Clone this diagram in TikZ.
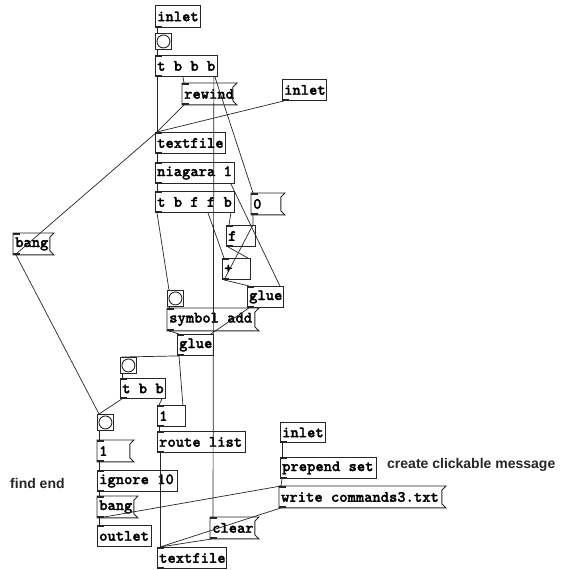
\documentclass[tikz,border=0pt]{standalone}
\usepackage{fontspec}
\newfontfamily\cmtfont{Liberation Sans}
\newfontfamily\pdfont{lmmonolt10-bold.otf}[FakeBold=1.6]
\tikzset{
 pdbox/.style={draw=black!85, line width=0.9pt, inner sep=0pt, anchor=north west},
 pdtxt/.style={font=\pdfont\fontsize{15.8}{16}\selectfont, inner sep=0pt, anchor=west},
 wire/.style={draw=black!85, line width=0.7pt},
 nub/.style={fill=black!85, draw=none},
 cmt/.style={font=\cmtfont\bfseries\fontsize{14}{16}\selectfont, inner sep=0pt, anchor=west, text=black!85},
}
\newcommand{\innub}[1]{\fill[nub] (#1.north west) rectangle ([xshift=7pt,yshift=-2pt]#1.north west);}
\newcommand{\outnub}[1]{\fill[nub] (#1.south west) rectangle ([xshift=7pt,yshift=2pt]#1.south west);}
\newcommand{\pdobj}[6]{%
 \node[pdbox, minimum width=#4pt, minimum height=#5pt] (#1) at (#2,#3) {};
 \node[pdtxt] (#1t) at ([xshift=2pt]#1.west) {#6};}
\newcommand{\pdmsg}[6]{%
 \node[pdbox, draw=none, minimum width=#4pt, minimum height=#5pt] (#1) at (#2,#3) {};
 \draw[black!85, line width=0.9pt] (#1.north west) -- ([xshift=4pt]#1.north east) -- ([yshift=-4pt]#1.north east) -- ([yshift=4pt]#1.south east) -- ([xshift=4pt]#1.south east) -- (#1.south west) -- cycle;
 \node[pdtxt] (#1t) at ([xshift=2pt]#1.west) {#6};}
\newcommand{\pdbng}[3]{%
 \node[pdbox, minimum width=16pt, minimum height=16pt] (#1) at (#2,#3) {};
 \draw[black!85, line width=0.9pt] (#1.center) circle (6.5pt);}
\begin{document}
\begin{tikzpicture}[x=1pt,y=-1pt]
\useasboundingbox[fill=white] (0,0) rectangle (570,570);
% boxes
\pdobj{in1}{155}{5}{45}{22}{inlet}
\pdbng{bng1}{155}{33}
\pdobj{tbbb}{155}{55}{62}{21}{t b b b}
\pdmsg{rewind}{182}{83}{50}{21}{rewind}
\pdobj{in2}{282}{79}{44}{21}{inlet}
\pdobj{tf1}{155}{132}{70}{21}{textfile}
\pdobj{niag}{155}{162}{79}{21}{niagara 1}
\pdobj{tbffb}{155}{191}{79}{21}{t b f f b}
\pdmsg{zero}{251}{193}{29}{21}{0}
\pdobj{fbox}{226}{225}{29}{21}{f}
\pdobj{plus}{222}{258}{28}{21}{+}
\pdobj{glueb}{247}{286}{36}{21}{glue}
\pdbng{bng2}{167}{290}
\pdmsg{symadd}{167}{308}{87}{22}{symbol add}
\pdobj{gluea}{177}{334}{36}{21}{glue}
\pdbng{bng3}{120}{357}
\pdobj{tbb}{120}{378}{45}{20}{t b b}
\pdobj{onea}{157}{405}{28}{21}{1}
\pdobj{route}{157}{431}{88}{21}{route list}
\pdbng{bng4}{97}{414}
\pdmsg{oneb}{97}{440}{32}{21}{1}
\pdobj{ignore}{97}{470}{80}{21}{ignore 10}
\pdmsg{bangb}{97}{496}{36}{21}{bang}
\pdobj{outl}{97}{525}{54}{21}{outlet}
\pdobj{tf2}{157}{547}{69}{21}{textfile}
\pdmsg{clear}{210}{517}{44}{21}{clear}
\pdobj{in3}{280}{422}{45}{20}{inlet}
\pdobj{prep}{280}{457}{96}{21}{prepend set}
\pdmsg{write}{279}{486}{162}{21}{write commands3.txt}
\pdmsg{banga}{13}{233}{36}{21}{bang}
% inlet / outlet marks
\foreach \b in {tbbb,rewind,tf1,niag,tbffb,zero,fbox,plus,glueb,symadd,gluea,tbb,onea,route,oneb,ignore,bangb,outl,tf2,clear,prep,write,banga} {\innub{\b}}
\foreach \b in {in1,in2,in3,tbbb,rewind,tf1,niag,tbffb,zero,fbox,plus,glueb,symadd,gluea,tbb,onea,route,oneb,ignore,bangb,tf2,clear,prep,write,banga} {\outnub{\b}}
% comments
\node[cmt] (c1) at (10,483) {find end};
\node[cmt] (c2) at (387,465) {create clickable message};
% wires
\draw[wire] ([xshift=2pt]in1.south west) -- ([xshift=2pt]bng1.north west);
\draw[wire] ([xshift=2pt]bng1.south west) -- ([xshift=2pt]tbbb.north west);
\draw[wire] ([xshift=2pt]tbbb.south west) -- ([xshift=2pt]tf1.north west);
\draw[wire] ([xshift=28pt]tbbb.south west) -- ([xshift=2pt]rewind.north west);
\draw[wire] ([xshift=-4pt]tbbb.south east) -- ([xshift=3pt]clear.north west);
\draw[wire] ([xshift=-3pt]tbbb.south east) -- ([xshift=2pt]zero.north west);
\draw[wire] ([xshift=2pt]rewind.south west) -- ([xshift=2pt]tf1.north west);
\draw[wire] ([xshift=2pt]in2.south west) -- ([xshift=2pt]tf1.north west);
\draw[wire] ([xshift=2pt]banga.south west) -- ([xshift=2pt]tf1.north west);
\draw[wire] ([xshift=3pt]banga.south west) -- ([xshift=2pt]bng4.north west);
\draw[wire] ([xshift=2pt]tf1.south west) -- ([xshift=2pt]niag.north west);
\draw[wire] ([xshift=2pt]niag.south west) -- ([xshift=2pt]tbffb.north west);
\draw[wire] ([xshift=-4pt]niag.south east) -- ([xshift=-4pt]glueb.north east);
\draw[wire] ([xshift=2pt]tbffb.south west) -- ([xshift=2pt]bng2.north west);
\draw[wire] ([xshift=53pt]tbffb.south west) -- ([xshift=2pt]plus.north west);
\draw[wire] ([xshift=-4pt]tbffb.south east) -- ([xshift=3pt]fbox.north west);
\draw[wire] ([xshift=2pt]zero.south west) -- ([xshift=-3pt]fbox.north east);
\draw[wire] ([xshift=2pt]fbox.south west) -- ([xshift=-3pt]plus.north east);
\draw[wire] ([xshift=2pt]plus.south west) -- ([xshift=-3pt]fbox.north east);
\draw[wire] ([xshift=2pt]plus.south west) -- ([xshift=2pt]glueb.north west);
\draw[wire] ([xshift=2pt]bng2.south west) -- ([xshift=2pt]symadd.north west);
\draw[wire] ([xshift=2pt]symadd.south west) -- ([xshift=2pt]gluea.north west);
\draw[wire] ([xshift=2pt]glueb.south west) -- ([xshift=-3pt]gluea.north east);
\draw[wire] ([xshift=2pt]gluea.south west) -- ([xshift=2pt]bng3.north west);
\draw[wire] ([xshift=2pt]gluea.south west) -- ([xshift=-3pt]onea.north east);
\draw[wire] ([xshift=2pt]bng3.south west) -- ([xshift=2pt]tbb.north west);
\draw[wire] ([xshift=2pt]tbb.south west) -- ([xshift=2pt]bng4.north west);
\draw[wire] ([xshift=-4pt]tbb.south east) -- ([xshift=2pt]onea.north west);
\draw[wire] ([xshift=2pt]onea.south west) -- ([xshift=2pt]route.north west);
\draw[wire] ([xshift=3pt]route.south west) -- ([xshift=3pt]tf2.north west);
\draw[wire] ([xshift=2pt]bng4.south west) -- ([xshift=2pt]oneb.north west);
\draw[wire] ([xshift=2pt]oneb.south west) -- ([xshift=2pt]ignore.north west);
\draw[wire] ([xshift=2pt]ignore.south west) -- ([xshift=2pt]bangb.north west);
\draw[wire] ([xshift=2pt]bangb.south west) -- ([xshift=2pt]outl.north west);
\draw[wire] ([xshift=2pt]bangb.south west) -- ([xshift=2pt]write.north west);
\draw[wire] ([xshift=2pt]in3.south west) -- ([xshift=2pt]prep.north west);
\draw[wire] ([xshift=2pt]prep.south west) -- ([xshift=2pt]write.north west);
\draw[wire] ([xshift=2pt]write.south west) -- ([xshift=3pt]tf2.north west);
\draw[wire] ([xshift=2pt]clear.south west) -- ([xshift=3pt]tf2.north west);
\end{tikzpicture}
\end{document}
